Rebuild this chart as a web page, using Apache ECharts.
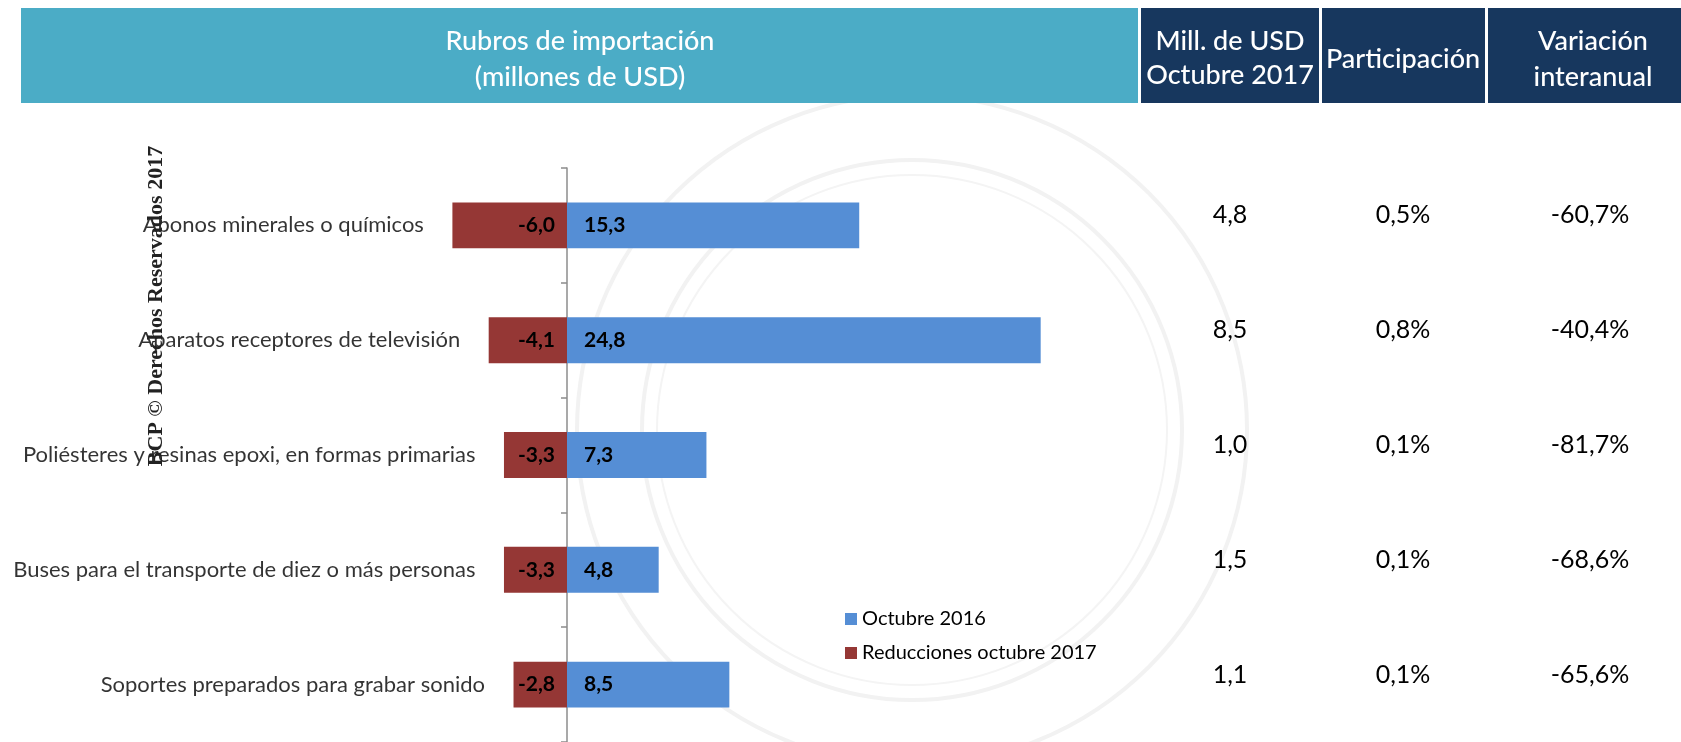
<!DOCTYPE html>
<html>
<head>
<meta charset="utf-8">
<title>Rubros de importación</title>
<script src="https://cdn.jsdelivr.net/npm/echarts@6/dist/echarts.min.js"></script>
<style>
  html, body { margin: 0; padding: 0; background: #fff; }
  #chart { width: 1681px; height: 742px; }
</style>
</head>
<body>
<div id="chart"></div>
<script>
// datos
const categories = [
  'Abonos minerales o químicos',
  'Aparatos receptores de televisión',
  'Poliésteres y resinas epoxi, en formas primarias',
  'Buses para el transporte de diez o más personas',
  'Soportes preparados para grabar sonido'
]
const octubre2016 = [15.3, 24.8, 7.3, 4.8, 8.5]
const reducciones2017 = [-6.0, -4.1, -3.3, -3.3, -2.8]
const millUsdOct2017 = [4.8, 8.5, 1.0, 1.5, 1.1]
const participacion = [0.5, 0.8, 0.1, 0.1, 0.1]
const variacionInteranual = [-60.7, -40.4, -81.7, -68.6, -65.6]

const BLUE = '#558ed5'
const RED = '#953735'
const CYAN = '#4bacc6'
const NAVY = '#17375e'
const FONT = 'Lato, "Open Sans", sans-serif'

const fmt = v => v.toFixed(1).replace('.', ',')
const pct = v => fmt(v) + '%'

// columnas de la derecha como ejes de categoria extra
function columnAxis(values, offset) {
  return {
    type: 'category',
    inverse: true,
    position: 'right',
    offset: offset,
    data: values,
    axisLine: { show: false, onZero: false },
    axisTick: { show: false },
    axisLabel: {
      margin: 0,
      align: 'center',
      verticalAlign: 'bottom',
      lineHeight: 20,
      fontFamily: FONT,
      fontSize: 25,
      color: '#000'
    }
  }
}

const chart = echarts.init(document.getElementById('chart'))

const option = {
  animation: false,
  backgroundColor: '#fff',
  grid: {
    left: 376,
    right: 541,
    top: 168,
    bottom: 0
  },
  legend: {
    data: ['Octubre 2016', 'Reducciones octubre 2017'],
    orient: 'vertical',
    left: 840,
    top: 604,
    icon: 'rect',
    itemWidth: 12,
    itemHeight: 12,
    itemGap: 14,
    textStyle: { fontFamily: FONT, fontSize: 20, color: '#000' }
  },
  xAxis: {
    type: 'value',
    min: -10,
    max: 30,
    show: false
  },
  yAxis: [
    {
      type: 'category',
      inverse: true,
      data: categories,
      axisLine: { onZero: true, lineStyle: { color: '#8c8c8c', width: 1.5 } },
      axisTick: { show: true, inside: false, length: 6, lineStyle: { color: '#8c8c8c', width: 1.5 } },
      axisLabel: { show: false }
    },
    columnAxis(millUsdOct2017.map(fmt), 90),
    columnAxis(participacion.map(pct), 263),
    columnAxis(variacionInteranual.map(pct), 450)
  ],
  series: [
    {
      name: 'Octubre 2016',
      type: 'bar',
      stack: 'rubros',
      barWidth: '40%',
      data: octubre2016,
      itemStyle: { color: BLUE },
      label: {
        show: true,
        position: 'insideLeft',
        distance: 17,
        formatter: p => fmt(p.value),
        fontFamily: FONT,
        fontWeight: 'bold',
        fontSize: 21,
        color: '#000'
      }
    },
    {
      name: 'Reducciones octubre 2017',
      type: 'bar',
      stack: 'rubros',
      barWidth: '40%',
      data: reducciones2017,
      itemStyle: { color: RED },
      label: {
        show: true,
        position: 'insideRight',
        distance: 12,
        formatter: p => fmt(p.value),
        fontFamily: FONT,
        fontWeight: 'bold',
        fontSize: 21,
        color: '#000'
      }
    },
    {
      // nombres de los rubros pegados a la barra roja
      name: 'rubros',
      type: 'scatter',
      silent: true,
      symbolSize: 1,
      itemStyle: { color: 'transparent' },
      data: categories.map((c, i) => [reducciones2017[i], c]),
      label: {
        show: true,
        position: 'left',
        distance: 28,
        formatter: p => p.value[1],
        fontFamily: FONT,
        fontSize: 22,
        color: '#000'
      },
      z: 5
    }
  ],
  graphic: [
    // sello de fondo
    { type: 'circle', z: -10, shape: { cx: 912, cy: 430, r: 335 }, style: { fill: 'none', stroke: '#f2f2f2', lineWidth: 4 } },
    { type: 'circle', z: -10, shape: { cx: 912, cy: 430, r: 270 }, style: { fill: 'none', stroke: '#f2f2f2', lineWidth: 4 } },
    { type: 'circle', z: -10, shape: { cx: 912, cy: 430, r: 255 }, style: { fill: 'none', stroke: '#f4f4f4', lineWidth: 2 } },
    // encabezado
    { type: 'rect', shape: { x: 21, y: 8, width: 1117, height: 95 }, style: { fill: CYAN } },
    { type: 'rect', shape: { x: 1141, y: 8, width: 178, height: 95 }, style: { fill: NAVY } },
    { type: 'rect', shape: { x: 1322, y: 8, width: 163, height: 95 }, style: { fill: NAVY } },
    { type: 'rect', shape: { x: 1488, y: 8, width: 193, height: 95 }, style: { fill: NAVY } },
    {
      type: 'text', x: 580, y: 59,
      style: { text: 'Rubros de importación\n(millones de USD)', fill: '#fff', font: '500 27px ' + FONT, lineHeight: 36, align: 'center', verticalAlign: 'middle' }
    },
    {
      type: 'text', x: 1230, y: 58,
      style: { text: 'Mill. de USD\nOctubre 2017', fill: '#fff', font: '500 27px ' + FONT, lineHeight: 34, align: 'center', verticalAlign: 'middle' }
    },
    {
      type: 'text', x: 1403, y: 59,
      style: { text: 'Participación', fill: '#fff', font: '500 27px ' + FONT, align: 'center', verticalAlign: 'middle' }
    },
    {
      type: 'text', x: 1593, y: 59,
      style: { text: 'Variación\ninteranual', fill: '#fff', font: '500 27px ' + FONT, lineHeight: 36, align: 'center', verticalAlign: 'middle' }
    },
    // marca de agua
    {
      type: 'text', x: 156, y: 306, rotation: Math.PI / 2, z: 100,
      style: { text: 'BCP © Derechos Reservados 2017', fill: '#222', font: 'bold 22px "Liberation Serif", serif', align: 'center', verticalAlign: 'middle' }
    }
  ]
}

chart.setOption(option)
</script>
</body>
</html>
